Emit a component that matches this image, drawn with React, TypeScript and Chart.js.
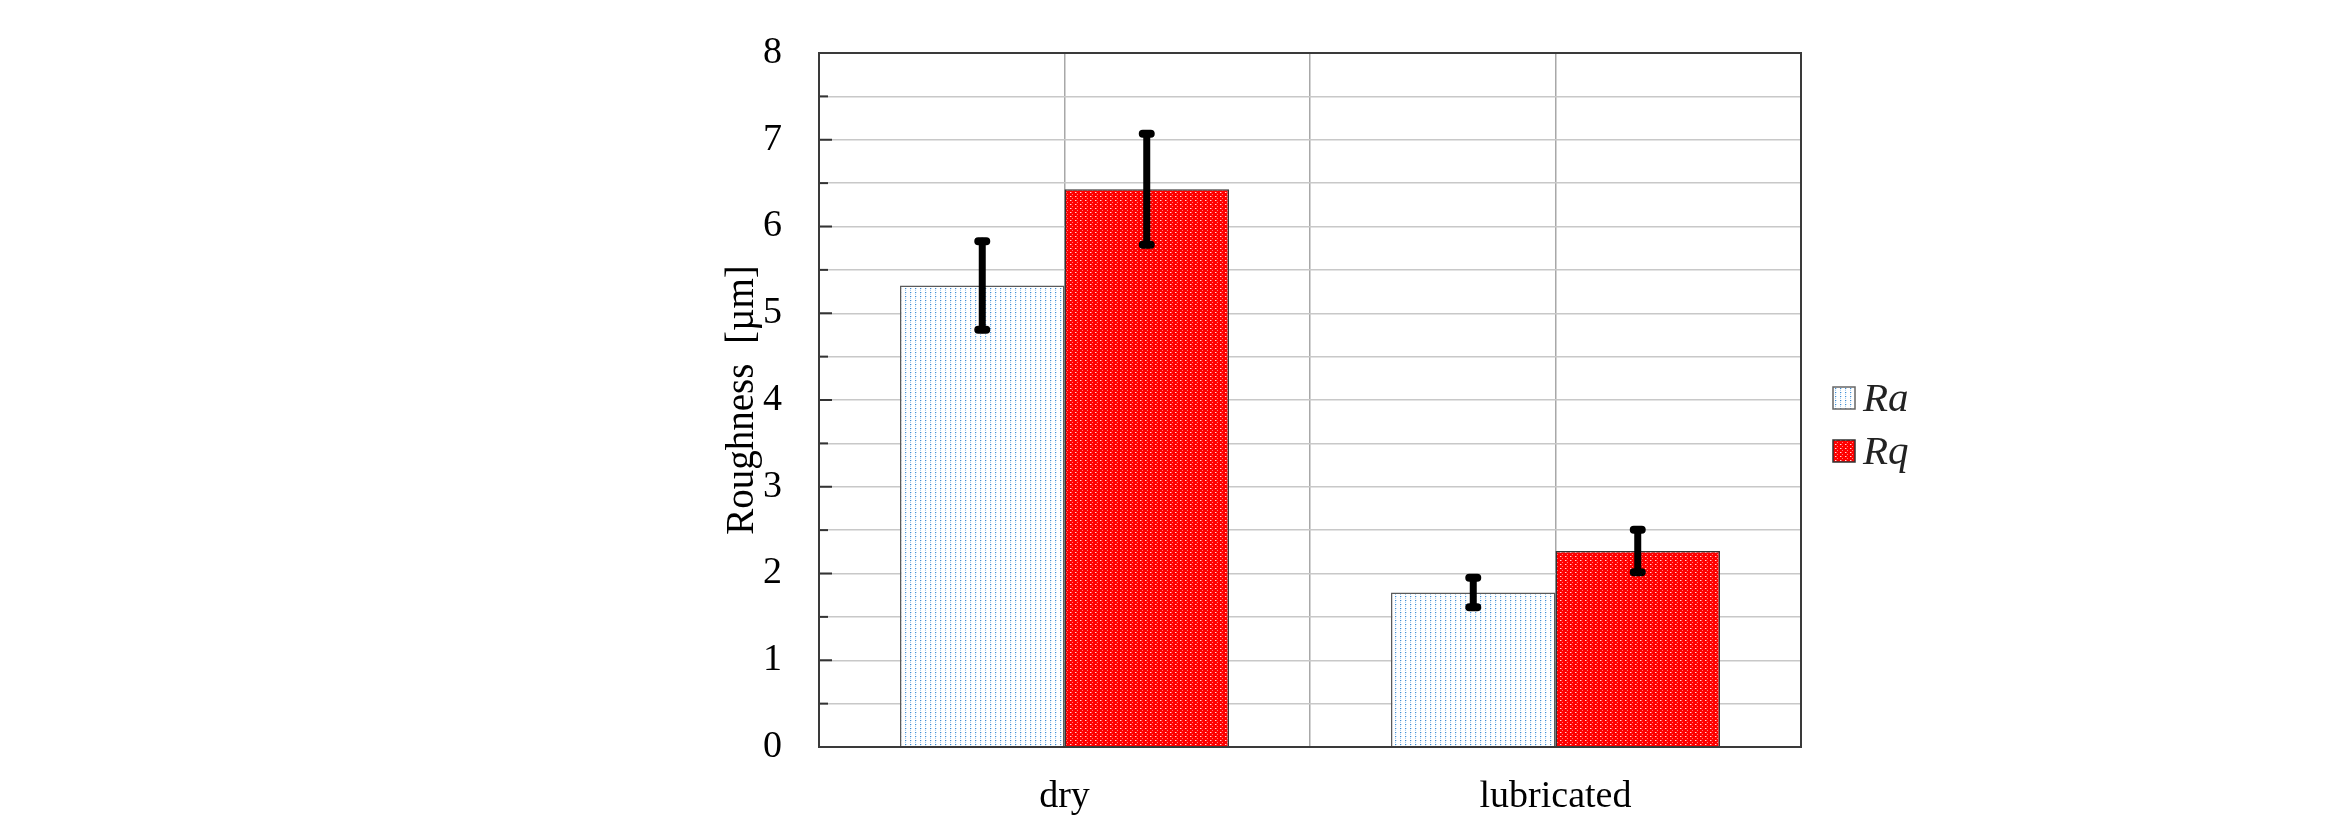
import React, { useEffect, useRef } from 'react';
import { Chart, registerables } from 'chart.js';

Chart.register(...registerables);

// ---- data ----
const categories = ['dry', 'lubricated'];
const seriesNames = ['Ra', 'Rq'];
const raValues = [5.32, 1.78];
const rqValues = [6.43, 2.26];
const raErrors = [0.51, 0.17];
const rqErrors = [0.64, 0.245];
const yMin = 0;
const yMax = 8;
const yStep = 0.5;
const yTitle = 'Roughness  [µm]';

const SERIF = "'Liberation Serif', 'Times New Roman', 'DejaVu Serif', serif";

function makePattern(bg: string, dots: [number, number, string][], w: number, h: number) {
  const c = document.createElement('canvas');
  c.width = w;
  c.height = h;
  const g = c.getContext('2d')!;
  g.fillStyle = bg;
  g.fillRect(0, 0, w, h);
  for (const [x, y, col] of dots) {
    g.fillStyle = col;
    g.fillRect(x, y, 1, 1);
  }
  return g.createPattern(c, 'repeat')!;
}

export default function App() {
  const ref = useRef<HTMLCanvasElement | null>(null);

  useEffect(() => {
    const canvas = ref.current;
    if (!canvas) return;

    const raPattern = makePattern('#ffffff', [
      [0, 0, '#3f8ed6'],
      [0, 2, '#a9cdee'],
      [1, 0, '#c8e0f5'],
      [0, 1, '#e2effa'],
    ], 5, 4);
    const rqPattern = makePattern('#ff0000', [
      [0, 0, '#ffd8d8'],
      [2, 2, '#ff7a7a'],
      [1, 0, '#ff6060'],
    ], 5, 4);

    const errors = [raErrors, rqErrors];

    const decor = {
      id: 'decor',
      beforeDraw(chart: any) {
        const { ctx, width, height } = chart;
        ctx.save();
        ctx.fillStyle = '#ffffff';
        ctx.fillRect(0, 0, width, height);
        ctx.restore();
      },
      beforeDatasetsDraw(chart: any) {
        const { ctx, chartArea } = chart;
        const y = chart.scales.y;
        ctx.save();
        ctx.strokeStyle = '#333333';
        ctx.lineWidth = 2;
        for (let v = yMin; v <= yMax + 1e-9; v += yStep) {
          const py = y.getPixelForValue(v);
          const len = Number.isInteger(v) ? 13 : 9;
          ctx.beginPath();
          ctx.moveTo(chartArea.left, py);
          ctx.lineTo(chartArea.left + len, py);
          ctx.stroke();
        }
        ctx.restore();
      },
      afterDatasetsDraw(chart: any) {
        const { ctx, chartArea } = chart;
        const y = chart.scales.y;
        ctx.save();
        // error bars
        ctx.strokeStyle = '#000000';
        ctx.lineWidth = 7;
        ctx.lineCap = 'round';
        chart.data.datasets.forEach((ds: any, i: number) => {
          const meta = chart.getDatasetMeta(i);
          meta.data.forEach((bar: any, j: number) => {
            const v = ds.data[j];
            const e = errors[i][j];
            const top = y.getPixelForValue(v + e);
            const bot = y.getPixelForValue(v - e);
            const x = bar.x;
            ctx.beginPath();
            ctx.moveTo(x, top);
            ctx.lineTo(x, bot);
            ctx.stroke();
            ctx.lineWidth = 8;
            ctx.beginPath();
            ctx.moveTo(x - 4, top);
            ctx.lineTo(x + 4, top);
            ctx.moveTo(x - 4, bot);
            ctx.lineTo(x + 4, bot);
            ctx.stroke();
            ctx.lineWidth = 7;
          });
        });
        // plot border
        ctx.lineCap = 'butt';
        ctx.strokeStyle = '#3a3a3a';
        ctx.lineWidth = 2;
        ctx.strokeRect(chartArea.left, chartArea.top, chartArea.right - chartArea.left, chartArea.bottom - chartArea.top);

        // legend
        const lx = chartArea.right + 32;
        const midY = (chartArea.top + chartArea.bottom) / 2;
        const rowGap = 53;
        const startY = midY - 2;
        chart.data.datasets.forEach((ds: any, i: number) => {
          const cy = startY + i * rowGap;
          ctx.fillStyle = ds.backgroundColor;
          ctx.fillRect(lx, cy - 11, 22, 22);
          ctx.strokeStyle = i === 0 ? '#666666' : '#333333';
          ctx.lineWidth = 1.5;
          ctx.strokeRect(lx, cy - 11, 22, 22);
          ctx.fillStyle = '#222222';
          ctx.font = `italic 41px ${SERIF}`;
          ctx.textAlign = 'left';
          ctx.textBaseline = 'alphabetic';
          ctx.fillText(ds.label, lx + 30, cy + 13);
        });

        // thin top rule of the page
        ctx.fillStyle = '#c8c8c8';
        ctx.fillRect(0, 0, chart.width, 1.5);
        ctx.restore();
      },
    };

    const chart = new Chart(canvas, {
      type: 'bar',
      data: {
        labels: categories,
        datasets: [
          {
            label: seriesNames[0],
            data: raValues,
            backgroundColor: raPattern as any,
            borderColor: '#5a5a5a',
            borderWidth: 1.5,
            categoryPercentage: 0.67,
            barPercentage: 1,
            xAxisID: 'x',
            yAxisID: 'y',
          },
          {
            label: seriesNames[1],
            data: rqValues,
            backgroundColor: rqPattern as any,
            borderColor: '#333333',
            borderWidth: 1.5,
            categoryPercentage: 0.67,
            barPercentage: 1,
            xAxisID: 'x',
            yAxisID: 'y',
          },
        ],
      },
      options: {
        animation: false,
        responsive: false,
        maintainAspectRatio: false,
        devicePixelRatio: 1,
        layout: { padding: { left: 715, right: 540, top: 53, bottom: 0 } },
        plugins: {
          legend: { display: false },
          tooltip: { enabled: false },
        },
        scales: {
          x: {
            type: 'category',
            grid: { display: false },
            border: { display: false },
            ticks: {
              font: { family: SERIF, size: 38 },
              color: '#000000',
              padding: 19,
            },
            afterFit: (s: any) => { s.height = 90; },
          },
          x2: {
            type: 'linear',
            position: 'top',
            min: 0,
            max: 4,
            offset: false,
            ticks: { display: false, stepSize: 1 },
            grid: { color: '#a8a8a8', lineWidth: 1.5, drawTicks: false, offset: false },
            border: { display: false },
            afterFit: (s: any) => { s.height = 0; },
          },
          y: {
            type: 'linear',
            min: yMin,
            max: yMax,
            ticks: {
              stepSize: yStep,
              autoSkip: false,
              padding: 0,
              font: { family: SERIF, size: 38 },
              color: '#000000',
              callback: (v: any) => (Number.isInteger(v) ? String(v) : ''),
            },
            grid: {
              color: '#c8c8c8',
              lineWidth: 1.5,
              drawTicks: true,
              tickLength: 37,
              tickColor: 'rgba(0,0,0,0)',
            },
            border: { display: false },
            title: {
              display: true,
              text: yTitle,
              font: { family: SERIF, size: 39 },
              color: '#000000',
              padding: { top: 4, bottom: 4 },
            },
            afterFit: (s: any) => { s.width = 104; },
          },
        } as any,
      },
      plugins: [decor],
    });

    return () => chart.destroy();
  }, []);

  return (
    <div style={{ margin: -8, width: 2341, height: 837, overflow: 'hidden' }}>
      <canvas ref={ref} width={2341} height={837} style={{ display: 'block', width: 2341, height: 837 }} />
    </div>
  );
}
